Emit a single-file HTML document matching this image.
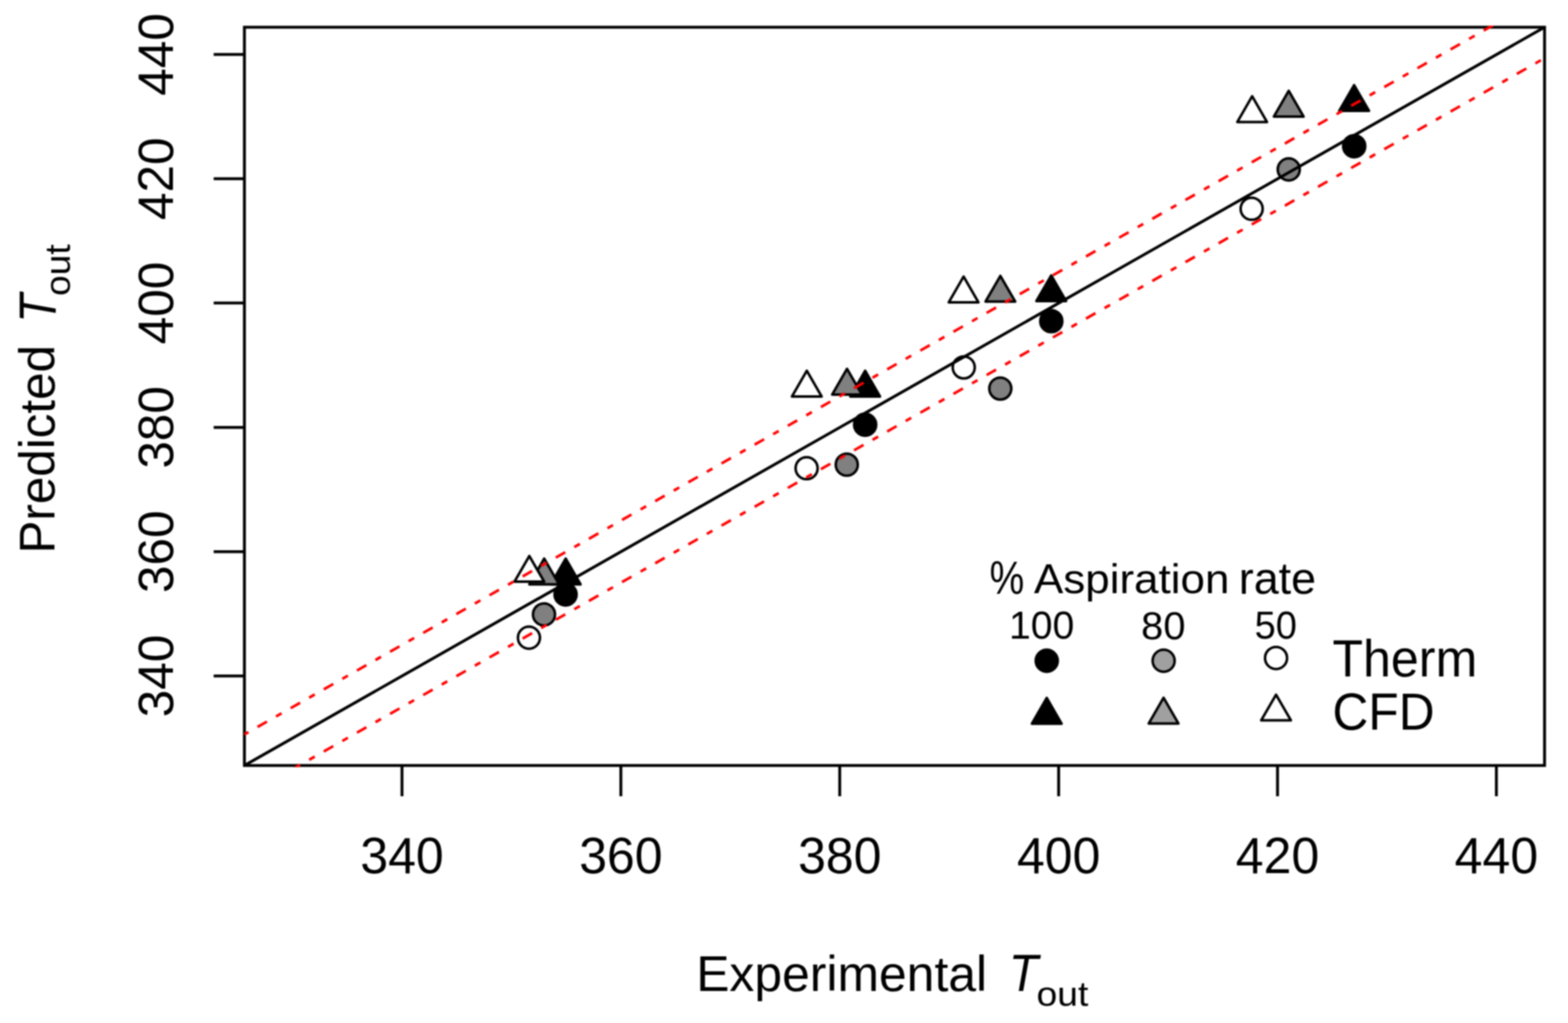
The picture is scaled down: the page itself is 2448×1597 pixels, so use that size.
<!DOCTYPE html>
<html><head><meta charset="utf-8"><title>Predicted vs Experimental T_out</title>
<style>
html,body{margin:0;padding:0;background:#fff;}
svg{display:block;}
text{font-family:"Liberation Sans",Arial,sans-serif;fill:#000;}
</style></head>
<body>
<svg width="2448" height="1597" viewBox="0 0 2448 1597">
<defs><filter id="soft" x="0" y="0" width="2448" height="1597" filterUnits="userSpaceOnUse" color-interpolation-filters="sRGB"><feGaussianBlur stdDeviation="1.0"/></filter><clipPath id="pc"><rect x="379.1" y="40.0" width="2034.8" height="1157.5"/></clipPath></defs>
<rect width="2448" height="1597" fill="#fff"/>
<g filter="url(#soft)">
<rect x="381.6" y="42.5" width="2029.8" height="1152.5" fill="none" stroke="#000" stroke-width="4.5"/>
<g stroke="#000" stroke-width="4.5">
<line x1="627.6" y1="1195.0" x2="627.6" y2="1243.0"/>
<line x1="333.6" y1="1055.3" x2="381.6" y2="1055.3"/>
<line x1="969.3" y1="1195.0" x2="969.3" y2="1243.0"/>
<line x1="333.6" y1="861.2" x2="381.6" y2="861.2"/>
<line x1="1311.0" y1="1195.0" x2="1311.0" y2="1243.0"/>
<line x1="333.6" y1="667.2" x2="381.6" y2="667.2"/>
<line x1="1652.8" y1="1195.0" x2="1652.8" y2="1243.0"/>
<line x1="333.6" y1="473.1" x2="381.6" y2="473.1"/>
<line x1="1994.5" y1="1195.0" x2="1994.5" y2="1243.0"/>
<line x1="333.6" y1="279.1" x2="381.6" y2="279.1"/>
<line x1="2336.2" y1="1195.0" x2="2336.2" y2="1243.0"/>
<line x1="333.6" y1="85.0" x2="381.6" y2="85.0"/>
</g>
<g id="points">
<polygon points="883.2,872.1 906.4,912.2 860.0,912.2" fill="#000" stroke="#000" stroke-width="4.0" stroke-linejoin="round"/>
<circle cx="883.0" cy="928.0" r="17.20" fill="#000" stroke="#000" stroke-width="4.0"/>
<polygon points="1350.7,578.8 1373.9,618.9 1327.5,618.9" fill="#000" stroke="#000" stroke-width="4.0" stroke-linejoin="round"/>
<circle cx="1350.7" cy="663.0" r="17.20" fill="#000" stroke="#000" stroke-width="4.0"/>
<polygon points="1641.2,430.0 1664.4,470.1 1618.0,470.1" fill="#000" stroke="#000" stroke-width="4.0" stroke-linejoin="round"/>
<circle cx="1641.3" cy="501.4" r="17.20" fill="#000" stroke="#000" stroke-width="4.0"/>
<polygon points="2114.1,132.9 2137.3,173.0 2090.9,173.0" fill="#000" stroke="#000" stroke-width="4.0" stroke-linejoin="round"/>
<circle cx="2114.2" cy="228.2" r="17.20" fill="#000" stroke="#000" stroke-width="4.0"/>
<polygon points="849.6,872.1 872.8,912.2 826.4,912.2" fill="#808080" stroke="#000" stroke-width="4.0" stroke-linejoin="round"/>
<circle cx="849.3" cy="959.2" r="17.20" fill="#808080" stroke="#000" stroke-width="4.0"/>
<polygon points="1322.4,575.8 1345.6,615.9 1299.2,615.9" fill="#808080" stroke="#000" stroke-width="4.0" stroke-linejoin="round"/>
<circle cx="1322.0" cy="725.4" r="17.20" fill="#808080" stroke="#000" stroke-width="4.0"/>
<polygon points="1561.8,430.7 1585.0,470.8 1538.6,470.8" fill="#808080" stroke="#000" stroke-width="4.0" stroke-linejoin="round"/>
<circle cx="1561.7" cy="606.6" r="17.20" fill="#808080" stroke="#000" stroke-width="4.0"/>
<polygon points="2012.0,141.8 2035.2,181.9 1988.8,181.9" fill="#808080" stroke="#000" stroke-width="4.0" stroke-linejoin="round"/>
<circle cx="2012.0" cy="264.5" r="17.20" fill="#808080" stroke="#000" stroke-width="4.0"/>
<polygon points="826.4,867.9 849.6,908.0 803.2,908.0" fill="#fff" stroke="#000" stroke-width="4.0" stroke-linejoin="round"/>
<circle cx="825.8" cy="995.5" r="17.20" fill="#fff" stroke="#000" stroke-width="4.0"/>
<polygon points="1259.6,578.8 1282.8,618.9 1236.4,618.9" fill="#fff" stroke="#000" stroke-width="4.0" stroke-linejoin="round"/>
<circle cx="1259.3" cy="730.9" r="17.20" fill="#fff" stroke="#000" stroke-width="4.0"/>
<polygon points="1504.4,431.8 1527.6,471.9 1481.2,471.9" fill="#fff" stroke="#000" stroke-width="4.0" stroke-linejoin="round"/>
<circle cx="1504.6" cy="573.6" r="17.20" fill="#fff" stroke="#000" stroke-width="4.0"/>
<polygon points="1954.9,150.3 1978.1,190.4 1931.7,190.4" fill="#fff" stroke="#000" stroke-width="4.0" stroke-linejoin="round"/>
<circle cx="1954.1" cy="325.9" r="17.20" fill="#fff" stroke="#000" stroke-width="4.0"/>
</g>
<g id="lines">
<line x1="381.6" y1="1195.0" x2="2411.4" y2="42.5" stroke="#000" stroke-width="4.5"/>
<line x1="381.6" y1="1146.5" x2="2411.4" y2="-6.2" stroke="#ff0000" stroke-width="4.2" stroke-dasharray="17 16.25 10 16.25" stroke-dashoffset="36.0" clip-path="url(#pc)"/>
<line x1="381.6" y1="1243.5" x2="2411.4" y2="90.8" stroke="#ff0000" stroke-width="4.2" stroke-dasharray="17 16.25 10 16.25" stroke-dashoffset="36.0" clip-path="url(#pc)"/>
</g>
<text transform="translate(562.47,1362.61) scale(0.78116,0.79011)" font-size="100">340</text>
<text transform="translate(270.43,1119.70) rotate(-90) scale(0.77237,0.77314)" font-size="100">340</text>
<text transform="translate(904.19,1362.61) scale(0.78116,0.79011)" font-size="100">360</text>
<text transform="translate(270.43,925.64) rotate(-90) scale(0.77237,0.77314)" font-size="100">360</text>
<text transform="translate(1245.91,1362.61) scale(0.78116,0.79011)" font-size="100">380</text>
<text transform="translate(270.43,731.58) rotate(-90) scale(0.77237,0.77314)" font-size="100">380</text>
<text transform="translate(1587.63,1362.61) scale(0.78116,0.79011)" font-size="100">400</text>
<text transform="translate(270.43,537.52) rotate(-90) scale(0.77237,0.77314)" font-size="100">400</text>
<text transform="translate(1929.35,1362.61) scale(0.78116,0.79011)" font-size="100">420</text>
<text transform="translate(270.43,343.46) rotate(-90) scale(0.77237,0.77314)" font-size="100">420</text>
<text transform="translate(2271.07,1362.61) scale(0.78116,0.79011)" font-size="100">440</text>
<text transform="translate(270.43,149.40) rotate(-90) scale(0.77237,0.77314)" font-size="100">440</text>
<text transform="translate(84.92,864.06) rotate(-90) scale(0.77057,0.78027)" font-size="100">Predicted</text>
<text transform="translate(86.70,503.69) rotate(-90) scale(0.73276,0.81600)" font-size="100" font-style="italic">T</text>
<text transform="translate(109.04,461.96) rotate(-90) scale(0.57910,0.56274)" font-size="100">out</text>
<text transform="translate(1086.88,1547.09) scale(0.77837,0.78606)" font-size="100">Experimental</text>
<text transform="translate(1575.07,1547.10) scale(0.74828,0.81455)" font-size="100" font-style="italic">T</text>
<text transform="translate(1618.22,1570.26) scale(0.58284,0.54449)" font-size="100">out</text>
<text transform="translate(1544.97,927.04) scale(0.60795,0.71398)" font-size="100">%</text>
<text transform="translate(1614.13,926.42) scale(0.68653,0.64987)" font-size="100">Aspiration</text>
<text transform="translate(1934.08,926.80) scale(0.70000,0.69810)" font-size="100">rate</text>
<text transform="translate(1575.32,997.19) scale(0.61093,0.61484)" font-size="100">100</text>
<text transform="translate(1781.56,997.98) scale(0.62233,0.61908)" font-size="100">80</text>
<text transform="translate(1958.73,997.38) scale(0.59370,0.61625)" font-size="100">50</text>
<text transform="translate(2080.34,1055.69) scale(0.78214,0.80952)" font-size="100">Therm</text>
<text transform="translate(2080.32,1138.88) scale(0.77548,0.81696)" font-size="100">CFD</text>
<g id="legend">
<circle cx="1634.2" cy="1031.5" r="17.20" fill="#000" stroke="#000" stroke-width="4.0"/>
<circle cx="1816.7" cy="1031.5" r="17.20" fill="#A0A0A0" stroke="#000" stroke-width="4.0"/>
<circle cx="1992.2" cy="1027.2" r="17.20" fill="#fff" stroke="#000" stroke-width="4.0"/>
<polygon points="1634.2,1089.6 1657.4,1129.7 1611.0,1129.7" fill="#000" stroke="#000" stroke-width="4.0" stroke-linejoin="round"/>
<polygon points="1816.6,1089.3 1839.8,1129.4 1793.4,1129.4" fill="#A0A0A0" stroke="#000" stroke-width="4.0" stroke-linejoin="round"/>
<polygon points="1992.2,1084.5 2015.4,1124.6 1969.0,1124.6" fill="#fff" stroke="#000" stroke-width="4.0" stroke-linejoin="round"/>
</g>
</g>
</svg>
</body></html>
